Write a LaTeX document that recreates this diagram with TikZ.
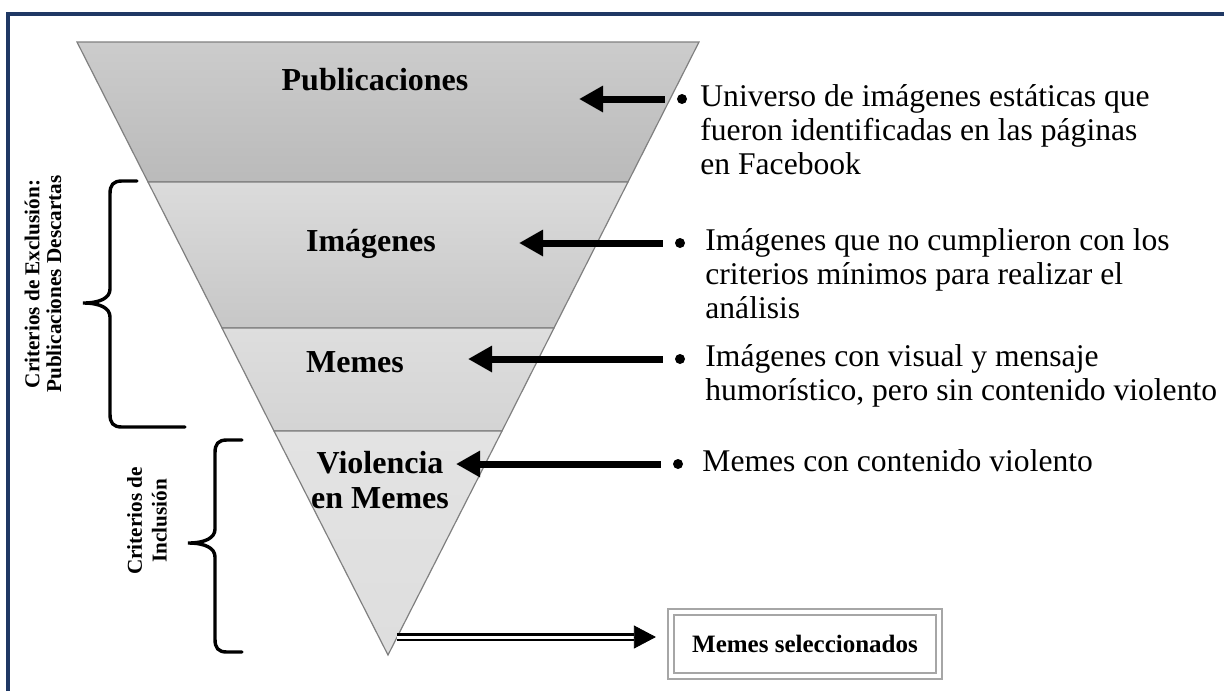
\documentclass[tikz,border=0pt]{standalone}
\usepackage{fontspec}
\setmainfont{Liberation Serif}
\usetikzlibrary{arrows.meta}

\begin{document}
\begin{tikzpicture}[x=0.5pt,y=-0.5pt,
	band/.style={draw=edgegray,line width=0.6pt},
	pointer/.style={line width=3.5pt,shorten <=6pt,-{Triangle[length=12pt,width=12.5pt]}},
	bulletdot/.style={circle,fill=black,inner sep=0pt,minimum size=5pt},
	curly/.style={line width=1.7pt,line cap=round},
	bandlabel/.style={font=\fontsize{16}{17.5}\selectfont\bfseries,align=center},
	desc/.style={anchor=base west,inner sep=0pt,font=\fontsize{15.8}{17}\selectfont},
	sidelabel/.style={font=\fontsize{10.6}{10.9}\selectfont\bfseries,align=center,rotate=90}]
					\definecolor{framenavy}{HTML}{1F3864}
					\definecolor{edgegray}{HTML}{808080}
					\definecolor{boxgray}{HTML}{A6A6A6}
					\useasboundingbox (0,0) rectangle (1224,691);
					\draw[framenavy,line width=1.6pt] (8,691) -- (8,14) -- (1224,14);

					% funnel
					\shadedraw[band,top color=black!20,bottom color=black!27] (77,42) -- (699,42) -- (628,182) -- (148,182) -- cycle;
					\shadedraw[band,top color=black!14,bottom color=black!22] (148,182) -- (628,182) -- (554,328) -- (222,328) -- cycle;
					\shadedraw[band,top color=black!13,bottom color=black!17] (222,328) -- (554,328) -- (502,431) -- (274,431) -- cycle;
					\shadedraw[band,top color=black!11,bottom color=black!13] (274,431) -- (502,431) -- (388,655) -- cycle;

					\node[bandlabel] (pub) at (375,80) {Publicaciones};
					\node[bandlabel] (img) at (371,244) {Imágenes};
					\node[bandlabel] (mem) at (355,362) {Memes};
					\node[bandlabel] (vio) at (380,480) {Violencia\\en Memes};

					% descriptions
					\node[bulletdot] (b1) at (682,99) {};
					\node[bulletdot] (b2) at (680,243) {};
					\node[bulletdot] (b3) at (680,359) {};
					\node[bulletdot] (b4) at (678,464) {};
					\coordinate (h1) at (579,99);
					\coordinate (h2) at (519,243);
					\coordinate (h3) at (468,359);
					\coordinate (h4) at (456,464);
					\draw[pointer] (b1) -- (h1);
					\draw[pointer] (b2) -- (h2);
					\draw[pointer] (b3) -- (h3);
					\draw[pointer] (b4) -- (h4);

					\node[desc] (d1) at (700,106) {\begin{tabular}[t]{@{}l@{}}Universo de imágenes estáticas que\\fueron identificadas en las páginas\\en Facebook\end{tabular}};
					\node[desc] (d2) at (705,250) {\begin{tabular}[t]{@{}l@{}}Imágenes que no cumplieron con los\\criterios mínimos para realizar el\\análisis\end{tabular}};
					\node[desc] (d3) at (705,366) {\begin{tabular}[t]{@{}l@{}}Imágenes con visual y mensaje\\humorístico, pero sin contenido violento\end{tabular}};
					\node[desc] (d4) at (702,471) {Memes con contenido violento};

					% braces
					\draw[curly] (137,181) -- (122,181) .. controls (113,181) and (110,185) .. (110,194) -- (110,289) .. controls (110,298) and (100,303) .. (83,303) .. controls (100,303) and (110,308) .. (110,317) -- (110,414) .. controls (110,423) and (113,427) .. (122,427) -- (185,427);
					\draw[curly] (242,440) -- (227,440) .. controls (218,440) and (215,444) .. (215,453) -- (215,529) .. controls (215,538) and (205,543) .. (188,543) .. controls (205,543) and (215,548) .. (215,557) -- (215,639) .. controls (215,648) and (218,652) .. (227,652) -- (242,652);
					\node[sidelabel] (exc) at (43,284) {Criterios de Exclusión:\\Publicaciones Descartas};
					\node[sidelabel,font=\fontsize{10.6}{12.3}\selectfont\bfseries] (inc) at (147,521) {Criterios de\\Inclusión};

					% result
					\node[draw=boxgray,line width=1.1pt,double=white,double distance=1.6pt,minimum width=134pt,minimum height=32pt,font=\fontsize{12.5}{14}\selectfont\bfseries] (sel) at (805,644) {Memes seleccionados};
					\coordinate (s) at (397,637);
					\coordinate (selin) at (s -| sel.west);
					\draw[line width=1.1pt,double distance=1.5pt,shorten >=18pt] (s) -- (selin);
					\draw[-{Triangle[length=11pt,width=11.5pt]},shorten >=7pt] ([xshift=-16pt]selin) -- (selin);
				\end{tikzpicture}
\end{document}
